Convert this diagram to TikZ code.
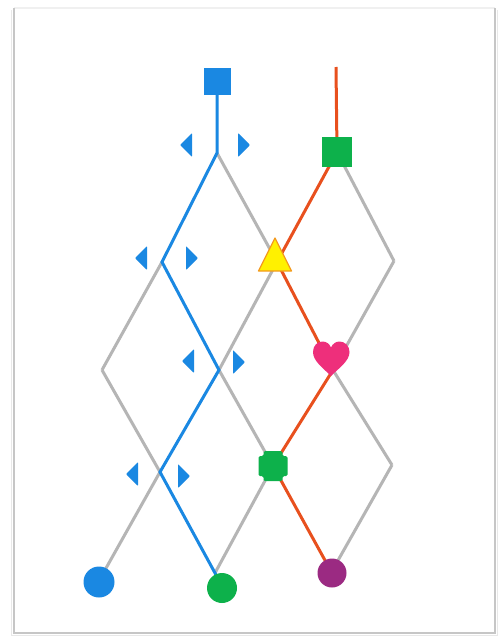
\documentclass[tikz,border=0pt]{standalone}
\usetikzlibrary{backgrounds,calc}
\definecolor{cblue}{HTML}{1A88E2}
\definecolor{cgreen}{HTML}{0DB14B}
\definecolor{cred}{HTML}{E8501E}
\definecolor{cgrey}{HTML}{B5B5B5}
\definecolor{cyellow}{HTML}{FFF100}
\definecolor{corange}{HTML}{F39A1E}
\definecolor{cpink}{HTML}{EE2F7B}
\definecolor{cpurple}{HTML}{9B2A82}
\begin{document}
\begin{tikzpicture}[x=1pt,y=-1pt,line join=round,line cap=round,
  greyline/.style={draw=cgrey,line width=3pt},
  blueline/.style={draw=cblue,line width=3pt},
  redline/.style={draw=cred,line width=3pt},
  sqmark/.style={rectangle,inner sep=0pt,draw=none},
  dotmark/.style={circle,inner sep=0pt,minimum size=30pt,draw=none},
  ltri/.pic={\fill[cblue,rounded corners=0.8pt] (-6,0) -- (6,-12) -- (6,12) -- cycle;},
  rtri/.pic={\fill[cblue,rounded corners=0.8pt] (6,0) -- (-6,-12) -- (-6,12) -- cycle;}]
\useasboundingbox (0,0) rectangle (499,637);
% lattice vertices
\coordinate (rtop) at (336,67);
\coordinate (A1) at (217,153);
\coordinate (A2) at (337,152);
\coordinate (B1) at (162,262);
\coordinate (B2) at (277,262);
\coordinate (B3) at (394,261);
\coordinate (C1) at (102,370);
\coordinate (C2) at (219,370);
\coordinate (C3) at (333,370);
\coordinate (D1) at (160,472);
\coordinate (D2) at (273,466);
\coordinate (D3) at (392,465);
\coordinate (E1) at (105,570);
\coordinate (E2) at (215,573);
\coordinate (E3) at (332,571);
% markers (nodes)
\node[sqmark,fill=cblue,minimum size=27pt] (bsq) at (217,81) {};
\node[sqmark,fill=cgreen,minimum size=30pt] (gsq) at (A2) {};
\node[dotmark,fill=cblue,minimum size=31pt] (bdot) at (99,582) {};
\node[dotmark,fill=cgreen] (gdot) at (222,588) {};
\node[dotmark,fill=cpurple,minimum size=29pt] (pdot) at (332,573) {};
% yellow triangle
\filldraw[fill=cyellow,draw=corange,line width=1.2pt] (275,238) -- (291.5,271) -- (258.5,271) -- cycle;
% heart
\fill[cpink] (331,376) .. controls (323,368) and (313,361) .. (313,352)
  .. controls (313,345.5) and (317.5,341.5) .. (322.5,341.5)
  .. controls (326.5,341.5) and (329.5,344) .. (331,347.5)
  .. controls (332.5,344) and (335.5,341.5) .. (339.5,341.5)
  .. controls (344.5,341.5) and (349.5,345.5) .. (349.5,352)
  .. controls (349.5,361) and (339,368) .. (331,376) -- cycle;
% green plus
\fill[cgreen,rounded corners=1.5pt] ($(D2)+(-9.5,-15)$) -- ($(D2)+(9.5,-15)$) -- ($(D2)+(9.5,-10)$) -- ($(D2)+(14.5,-10)$)
  -- ($(D2)+(14.5,10)$) -- ($(D2)+(9.5,10)$) -- ($(D2)+(9.5,15)$) -- ($(D2)+(-9.5,15)$)
  -- ($(D2)+(-9.5,10)$) -- ($(D2)+(-14.5,10)$) -- ($(D2)+(-14.5,-10)$) -- ($(D2)+(-9.5,-10)$) -- cycle;
% blue side markers
\pic at (186,145) {ltri};
\pic at (244,145) {rtri};
\pic at (141,258) {ltri};
\pic at (192,258) {rtri};
\pic at (188,361) {ltri};
\pic at (239,362) {rtri};
\pic at (132,474) {ltri};
\pic at (184,476) {rtri};
% frame and connectors behind markers
\begin{scope}[on background layer]
\fill[white] (14,8) rectangle (495,633);
\draw[gray!12,line width=1.2pt] (14,8) -- (495,8);
\draw[gray!45,line width=2pt] (14,8) -- (14,633) -- (495,633) -- (495,8);
\draw[gray!18,line width=1pt] (11.5,10) -- (11.5,635.5) -- (497.5,635.5) -- (497.5,10);
\draw[greyline] (A1) -- (B2);
\draw[greyline] (A2) -- (B3);
\draw[greyline] (B1) -- (C1);
\draw[greyline] (B2) -- (C2);
\draw[greyline] (B3) -- (C3);
\draw[greyline] (C1) -- (D1);
\draw[greyline] (C2) -- (D2);
\draw[greyline] (C3) -- (D3);
\draw[greyline] (D1) -- (E1);
\draw[greyline] (D2) -- (E2);
\draw[greyline] (D3) -- (E3);
\draw[blueline,line cap=butt] (bsq.south) -- (A1) -- (B1) -- (C2) -- (D1) -- (E2) -- (gdot.center);
\draw[redline] (rtop) -- (gsq.center) -- (B2) -- (C3) -- (D2) -- (pdot.center);
\end{scope}
\end{tikzpicture}
\end{document}
